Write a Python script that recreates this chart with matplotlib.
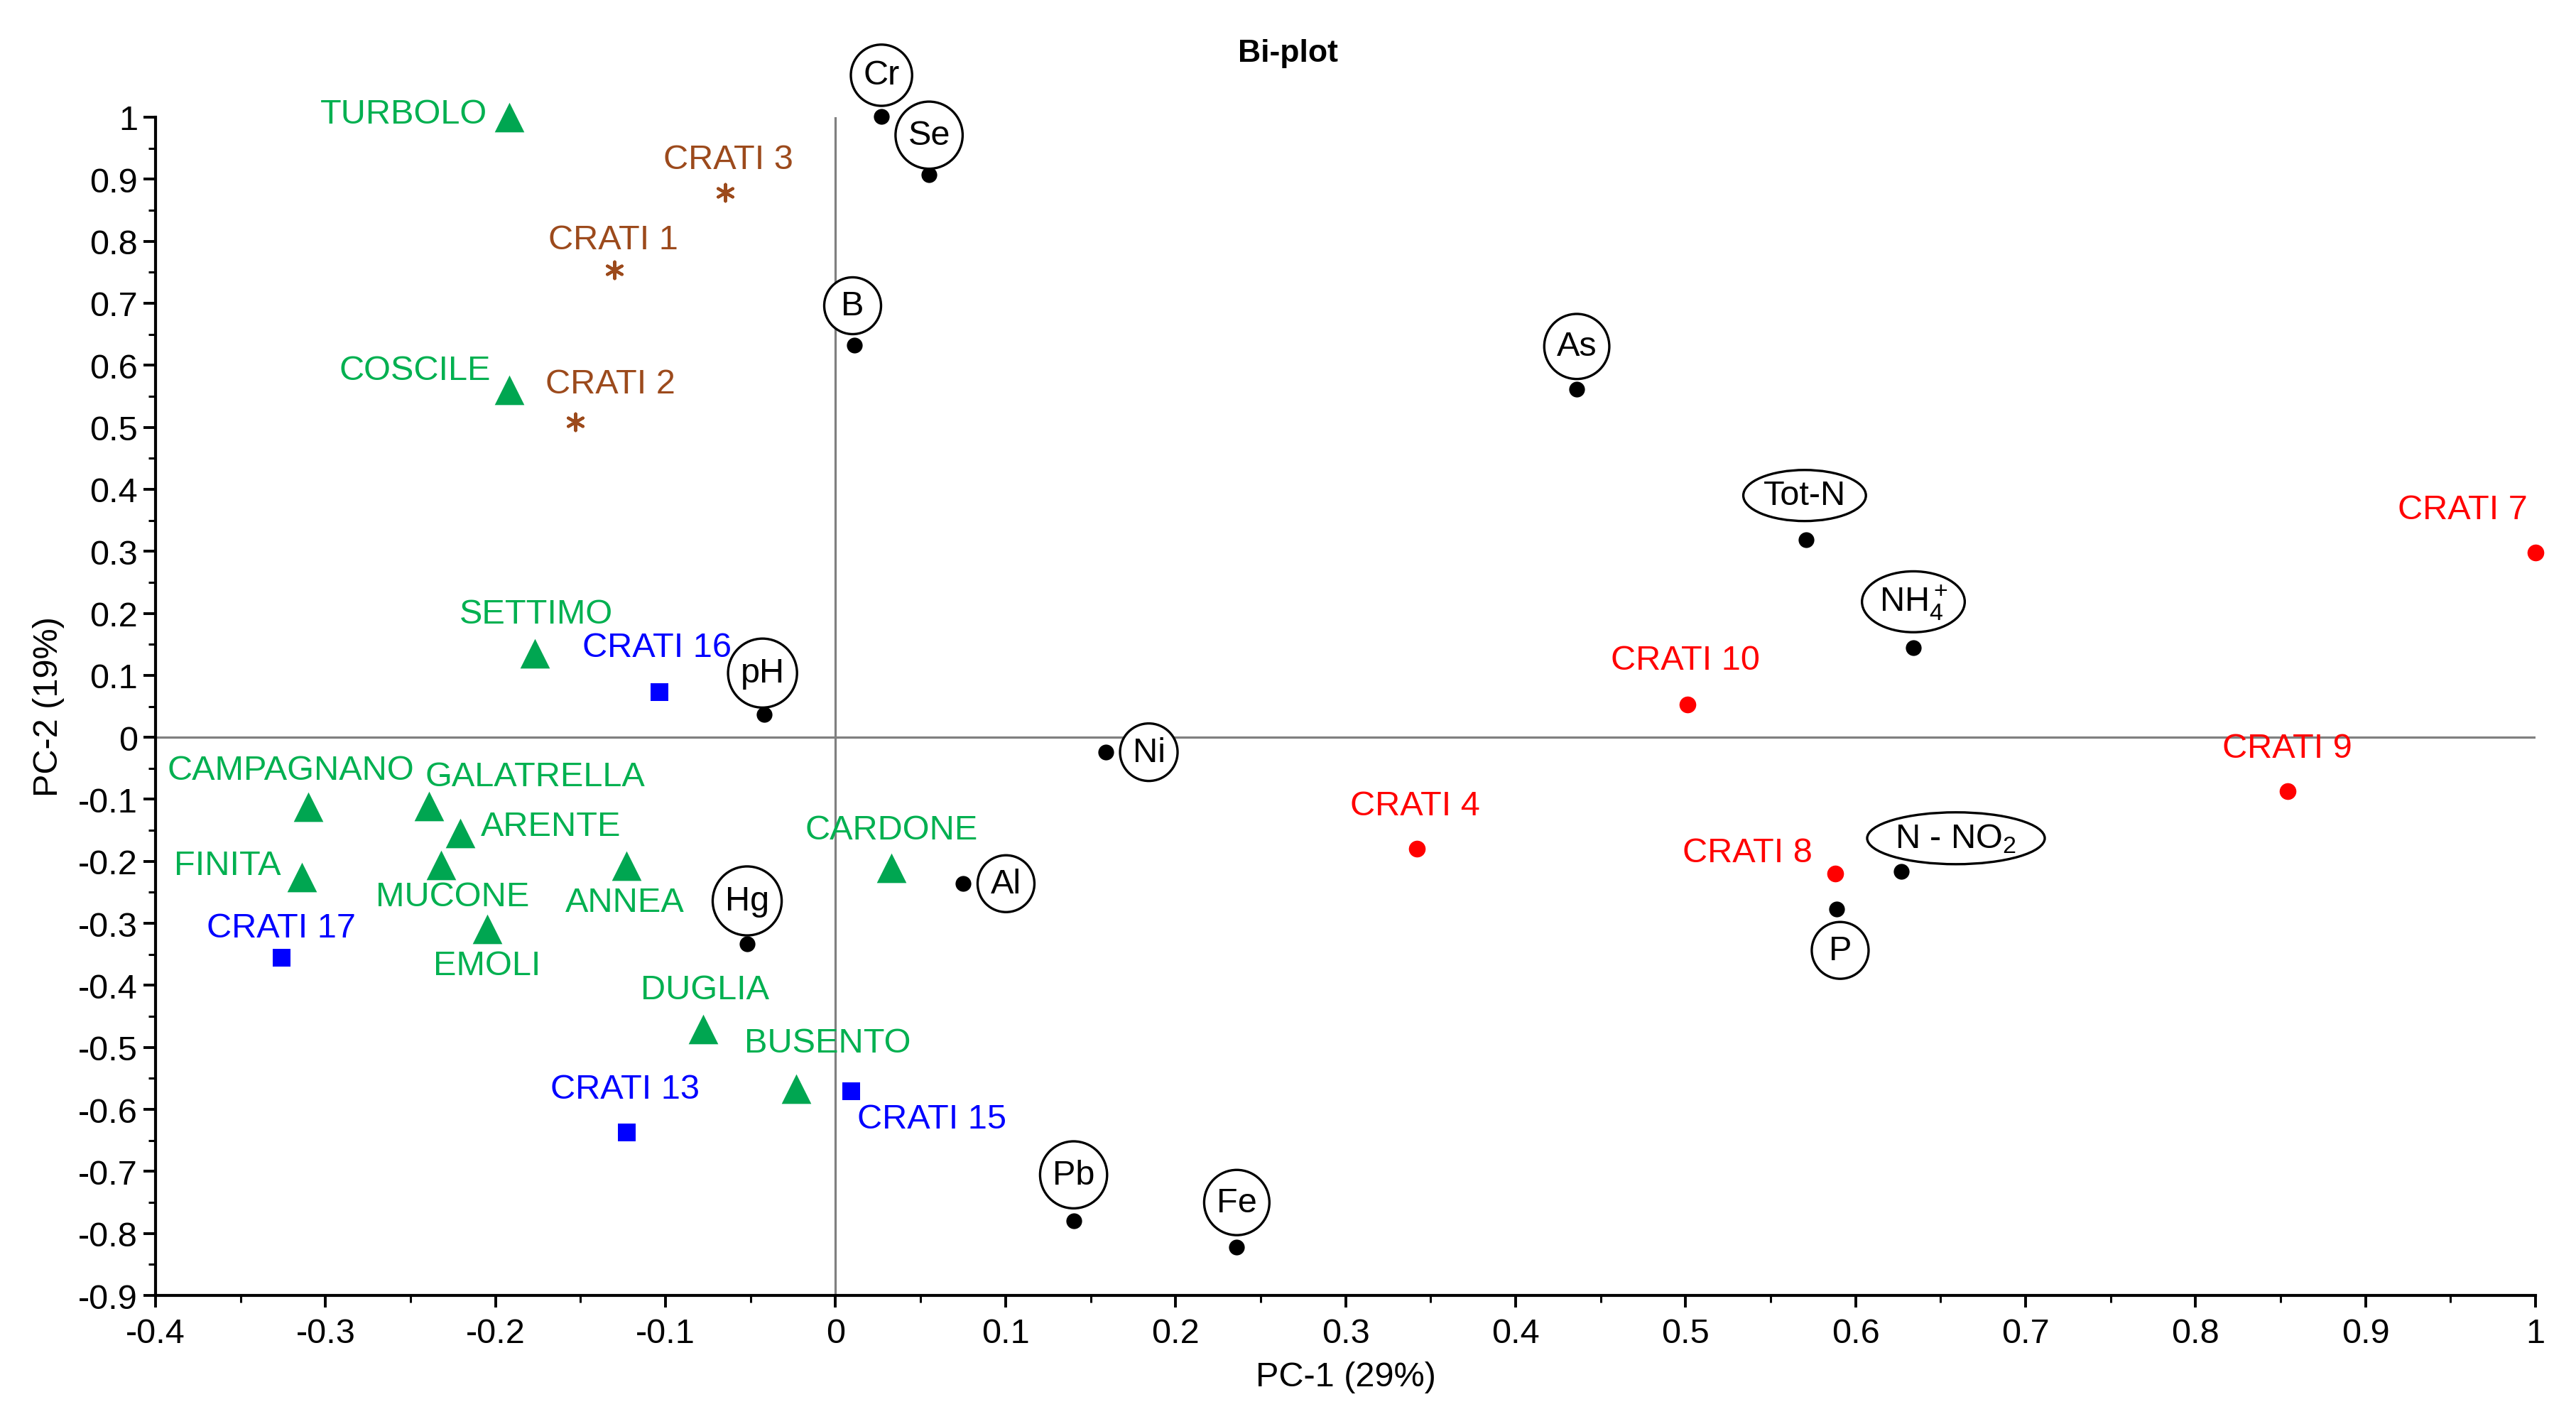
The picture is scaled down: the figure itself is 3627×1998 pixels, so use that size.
import matplotlib
matplotlib.use("Agg")
import matplotlib.pyplot as plt
from matplotlib.ticker import MultipleLocator, FuncFormatter

plt.rcParams['font.family'] = 'Liberation Sans'
plt.rcParams['mathtext.fontset'] = 'custom'
plt.rcParams['mathtext.rm'] = 'Liberation Sans'
plt.rcParams['mathtext.it'] = 'Liberation Sans:italic'
plt.rcParams['axes.unicode_minus'] = False

# tributaries (green triangles)
trib_names = ["TURBOLO", "COSCILE", "SETTIMO", "CAMPAGNANO", "GALATRELLA", "ARENTE",
              "FINITA", "MUCONE", "ANNEA", "EMOLI", "DUGLIA", "BUSENTO", "CARDONE"]
trib_pc1 = [-0.192, -0.192, -0.177, -0.310, -0.239, -0.221,
            -0.314, -0.232, -0.123, -0.205, -0.078, -0.023, 0.033]
trib_pc2 = [1.00, 0.56, 0.135, -0.112, -0.111, -0.154,
            -0.225, -0.206, -0.207, -0.309, -0.471, -0.567, -0.21]

# upstream Crati (brown asterisks)
up_names = ["CRATI 1", "CRATI 2", "CRATI 3"]
up_pc1 = [-0.130, -0.153, -0.065]
up_pc2 = [0.754, 0.509, 0.878]

# middle Crati (red circles)
mid_names = ["CRATI 4", "CRATI 7", "CRATI 8", "CRATI 9", "CRATI 10"]
mid_pc1 = [0.342, 1.000, 0.588, 0.854, 0.501]
mid_pc2 = [-0.180, 0.298, -0.220, -0.087, 0.053]

# downstream Crati (blue squares)
down_names = ["CRATI 13", "CRATI 15", "CRATI 16", "CRATI 17"]
down_pc1 = [-0.123, 0.009, -0.104, -0.326]
down_pc2 = [-0.637, -0.570, 0.073, -0.355]

# variables (black dots)
var_names = ["Cr", "Se", "B", "As", "Tot-N", r"NH$_4^+$", "pH", "Ni", "Al",
             "Hg", "Pb", "Fe", r"N - NO$_2$", "P"]
var_pc1 = [0.027, 0.055, 0.011, 0.436, 0.571, 0.634, -0.042, 0.159, 0.075,
           -0.052, 0.140, 0.236, 0.627, 0.589]
var_pc2 = [1.001, 0.907, 0.632, 0.561, 0.318, 0.144, 0.037, -0.024, -0.236,
           -0.333, -0.780, -0.822, -0.216, -0.277]

# label offsets (screen px of the small preview, x right / y down)
offs = {
    "TURBOLO": (-64, -2), "COSCILE": (-57, -12), "CRATI 3": (2, -20),
    "CRATI 1": (-1, -18), "CRATI 2": (21, -23), "SETTIMO": (1, -24),
    "CRATI 16": (-1, -27), "CAMPAGNANO": (-11, -22), "GALATRELLA": (64, -18),
    "ARENTE": (55, -4), "FINITA": (-45, -7), "MUCONE": (7, 19),
    "ANNEA": (-1, 22), "EMOLI": (0, 22), "CRATI 17": (0, -18),
    "DUGLIA": (1, -24), "BUSENTO": (19, -28), "CRATI 13": (-1, -26),
    "CRATI 15": (49, 17), "CARDONE": (0, -23), "CRATI 4": (-1, -26),
    "CRATI 10": (-1, -27), "CRATI 8": (-53, -13), "CRATI 9": (0, -26),
    "CRATI 7": (-44, -26),
    "Cr": (0, -25), "Se": (0, -24), "B": (-1, -24), "As": (0, -26),
    "Tot-N": (-1, -27), r"NH$_4^+$": (0, -28), "pH": (-1, -25),
    "Ni": (26, 0), "Al": (26, 0), "Hg": (0, -26), "Pb": (0, -28),
    "Fe": (0, -27), r"N - NO$_2$": (33, -20), "P": (2, 25),
}
K = 2.325

GREEN = "#00B050"
GREEN_M = "#00A651"
BROWN = "#9C4A1C"
RED = "#FF0000"
BLUE = "#0000FF"
FS = 35

fig = plt.figure(figsize=(36.27, 19.99), dpi=100)
ax = fig.add_axes([0.0604, 0.087, 0.9239, 0.830])

ax.axhline(0, color="#808080", lw=2.3, zorder=1)
ax.axvline(0, color="#808080", lw=2.3, zorder=1)

ax.scatter(trib_pc1, trib_pc2, marker="^", s=30**2, color=GREEN_M, lw=0, zorder=3, clip_on=False)
ax.scatter(up_pc1, up_pc2, marker=(6, 2, 0), s=17**2, color=BROWN, lw=3, zorder=3, clip_on=False)
ax.scatter(mid_pc1, mid_pc2, marker="o", s=17**2, color=RED, lw=0, zorder=3, clip_on=False)
ax.scatter(down_pc1, down_pc2, marker="s", s=18**2, color=BLUE, lw=0, zorder=3, clip_on=False)
ax.scatter(var_pc1, var_pc2, marker="o", s=16**2, color="black", lw=0, zorder=3, clip_on=False)


def put(names, xs, ys, color, boxed=False):
    for n, x, y in zip(names, xs, ys):
        dx, dy = offs[n]
        kw = {}
        if boxed:
            style = "circle,pad=0.36" if len(n) <= 2 else "ellipse,pad=0.06"
            kw["bbox"] = dict(boxstyle=style, fc="white", ec="black", lw=2.4)
        ax.annotate(n, (x, y), xytext=(dx * K, -dy * K), textcoords="offset pixels",
                    ha="center", va="center", fontsize=FS, color=color,
                    annotation_clip=False, zorder=4, **kw)


put(trib_names, trib_pc1, trib_pc2, GREEN)
put(up_names, up_pc1, up_pc2, BROWN)
put(mid_names, mid_pc1, mid_pc2, RED)
put(down_names, down_pc1, down_pc2, BLUE)
put(var_names, var_pc1, var_pc2, "black", boxed=True)

ax.set_xlim(-0.4, 1)
ax.set_ylim(-0.9, 1)
ax.spines["top"].set_visible(False)
ax.spines["right"].set_visible(False)
for s in ["left", "bottom"]:
    ax.spines[s].set_linewidth(3)
ax.xaxis.set_major_locator(MultipleLocator(0.1))
ax.xaxis.set_minor_locator(MultipleLocator(0.05))
ax.yaxis.set_major_locator(MultipleLocator(0.1))
ax.yaxis.set_minor_locator(MultipleLocator(0.05))
fmt = FuncFormatter(lambda v, p: f"{round(v, 2):g}")
ax.xaxis.set_major_formatter(fmt)
ax.yaxis.set_major_formatter(fmt)
ax.tick_params(which="major", length=12, width=2.8, labelsize=FS, pad=6)
ax.tick_params(axis="x", which="major", pad=10)
ax.tick_params(which="minor", length=7, width=2.2)

ax.set_xlabel("PC-1 (29%)", fontsize=FS, labelpad=12)
ax.set_ylabel("PC-2 (19%)", fontsize=FS, labelpad=14)
fig.suptitle("Bi-plot", fontsize=32, fontweight="bold", x=0.5, y=0.962, va="center")

fig.savefig("out.png", dpi=100)
